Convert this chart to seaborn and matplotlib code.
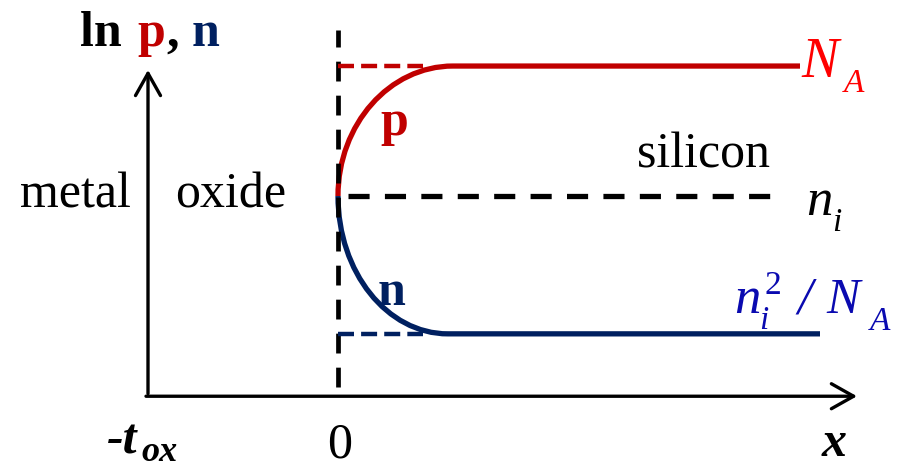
import matplotlib
matplotlib.use("Agg")
import matplotlib.pyplot as plt
from matplotlib.path import Path
from matplotlib.patches import PathPatch
import seaborn as sns
import pandas as pd

# Carrier levels (natural-log scale, intrinsic level at 0)
ln_NA = 1.0
ln_ni = 0.0
ln_n0 = -1.06

# Positions along x (oxide thickness to the left of the interface at 0)
x_tox = -1.9
x_axis_end = 5.19
y_axis_top = 0.97
y_axis_bottom = -1.54

# Hole profile: Bezier control points of the bend, then the flat bulk part
p_x = [0.0, 0.0, 0.515, 1.15, 4.62]
p_y = [0.0, 0.552, 1.0, 1.0, 1.0]

# Electron profile: Bezier control points of the bend, then the flat bulk part
n_x = [0.0, 0.0, 0.49, 1.10, 4.82]
n_y = [0.0, -0.585, -1.06, -1.06, -1.06]

# Dashed guide lines
ni_span = [0.1, 4.42]
guide_span = [0.0, 0.85]
interface_span = [-1.47, 1.277]

RED = "#C00000"
NAVY = "#002060"
LABEL_RED = "#FF0000"
LABEL_BLUE = "#0A0AB0"

sns.set_theme(style="white")
plt.rcParams["font.family"] = ["Liberation Serif", "DejaVu Serif"]
plt.rcParams["text.color"] = "black"

W, H = 907, 468
fig = plt.figure(figsize=(W / 100, H / 100), dpi=100)
ax = fig.add_axes([0, 0, 1, 1])

# Axes arrows
arrow = dict(arrowstyle="->,head_length=0.8,head_width=0.45", lw=2.4,
             color="black", shrinkA=0, shrinkB=0, mutation_scale=20)
ax.annotate("", xy=(x_tox, y_axis_top), xytext=(x_tox, y_axis_bottom + 0.02),
            arrowprops=arrow)
ax.annotate("", xy=(x_axis_end, y_axis_bottom), xytext=(x_tox - 0.02, y_axis_bottom),
            arrowprops=arrow)

# Oxide / silicon interface
sns.lineplot(x=[0.0, 0.0], y=interface_span, ax=ax, sort=False, estimator=None,
             color="black", lw=3.4, linestyle=(0, (4.2, 3.0)), dash_capstyle="butt")

# Intrinsic level
sns.lineplot(x=ni_span, y=[ln_ni, ln_ni], ax=ax, estimator=None,
             color="black", lw=3.8, linestyle=(0, (4.0, 2.9)), dash_capstyle="butt")

# Bulk-level guides
sns.lineplot(x=guide_span, y=[ln_NA, ln_NA], ax=ax, estimator=None,
             color=RED, lw=3.2, linestyle=(0, (3.6, 1.6)), dash_capstyle="butt")
sns.lineplot(x=guide_span, y=[ln_n0, ln_n0], ax=ax, estimator=None,
             color=NAVY, lw=3.2, linestyle=(0, (3.6, 1.6)), dash_capstyle="butt")

# Carrier profiles: cubic bend followed by the flat bulk value
codes = [Path.MOVETO, Path.CURVE4, Path.CURVE4, Path.CURVE4, Path.LINETO]
for xs, ys, col in [(p_x, p_y, RED), (n_x, n_y, NAVY)]:
    path = Path(list(zip(xs, ys)), codes)
    ax.add_patch(PathPatch(path, fill=False, edgecolor=col, lw=3.8,
                           capstyle="butt", joinstyle="round"))

ax.set_xlim(-3.38, 5.69)
ax.set_ylim(-2.092, 1.508)
ax.axis("off")


def put(px, py, s, **kw):
    kw.setdefault("fontsize", 36)
    kw.setdefault("va", "baseline")
    kw.setdefault("ha", "left")
    kw.setdefault("color", "black")
    fig.text(px / W, 1 - py / H, s, **kw)


# Axis title
put(80, 46, "ln", fontweight="bold")
put(137, 46, "p", fontweight="bold", color=RED)
put(166, 46, ",", fontweight="bold")
put(192, 46, "n", fontweight="bold", color=NAVY)

# Region names
put(20, 208, "metal")
put(175, 208, "oxide")
put(637, 167, "silicon")

# Curve labels
put(380, 135, "p", fontweight="bold", color=RED)
put(378, 305, "n", fontweight="bold", color=NAVY)

# N_A
put(801, 77, "N", fontstyle="italic", color=LABEL_RED, fontsize=40)
put(844, 92, "A", fontstyle="italic", color=LABEL_RED, fontsize=24)

# n_i
put(806, 215, "n", fontstyle="italic", fontsize=38)
put(832, 231, "i", fontstyle="italic", fontsize=24)

# n_i^2 / N_A
put(734, 313, "n", fontstyle="italic", color=LABEL_BLUE, fontsize=38)
put(759, 329, "i", fontstyle="italic", color=LABEL_BLUE, fontsize=24)
put(764, 294, "2", color=LABEL_BLUE, fontsize=24)
put(797, 313, "/", fontstyle="italic", color=LABEL_BLUE, fontsize=38)
put(826, 313, "N", fontstyle="italic", color=LABEL_BLUE, fontsize=36)
put(870, 330, "A", fontstyle="italic", color=LABEL_BLUE, fontsize=24)

# Axis tick labels
put(107, 453, "-t", fontweight="bold", fontstyle="italic")
put(141, 461, "ox", fontweight="bold", fontstyle="italic", fontsize=26)
put(327, 458, "0")
put(822, 456, "x", fontweight="bold", fontstyle="italic")

fig.savefig("out.png", dpi=100)
